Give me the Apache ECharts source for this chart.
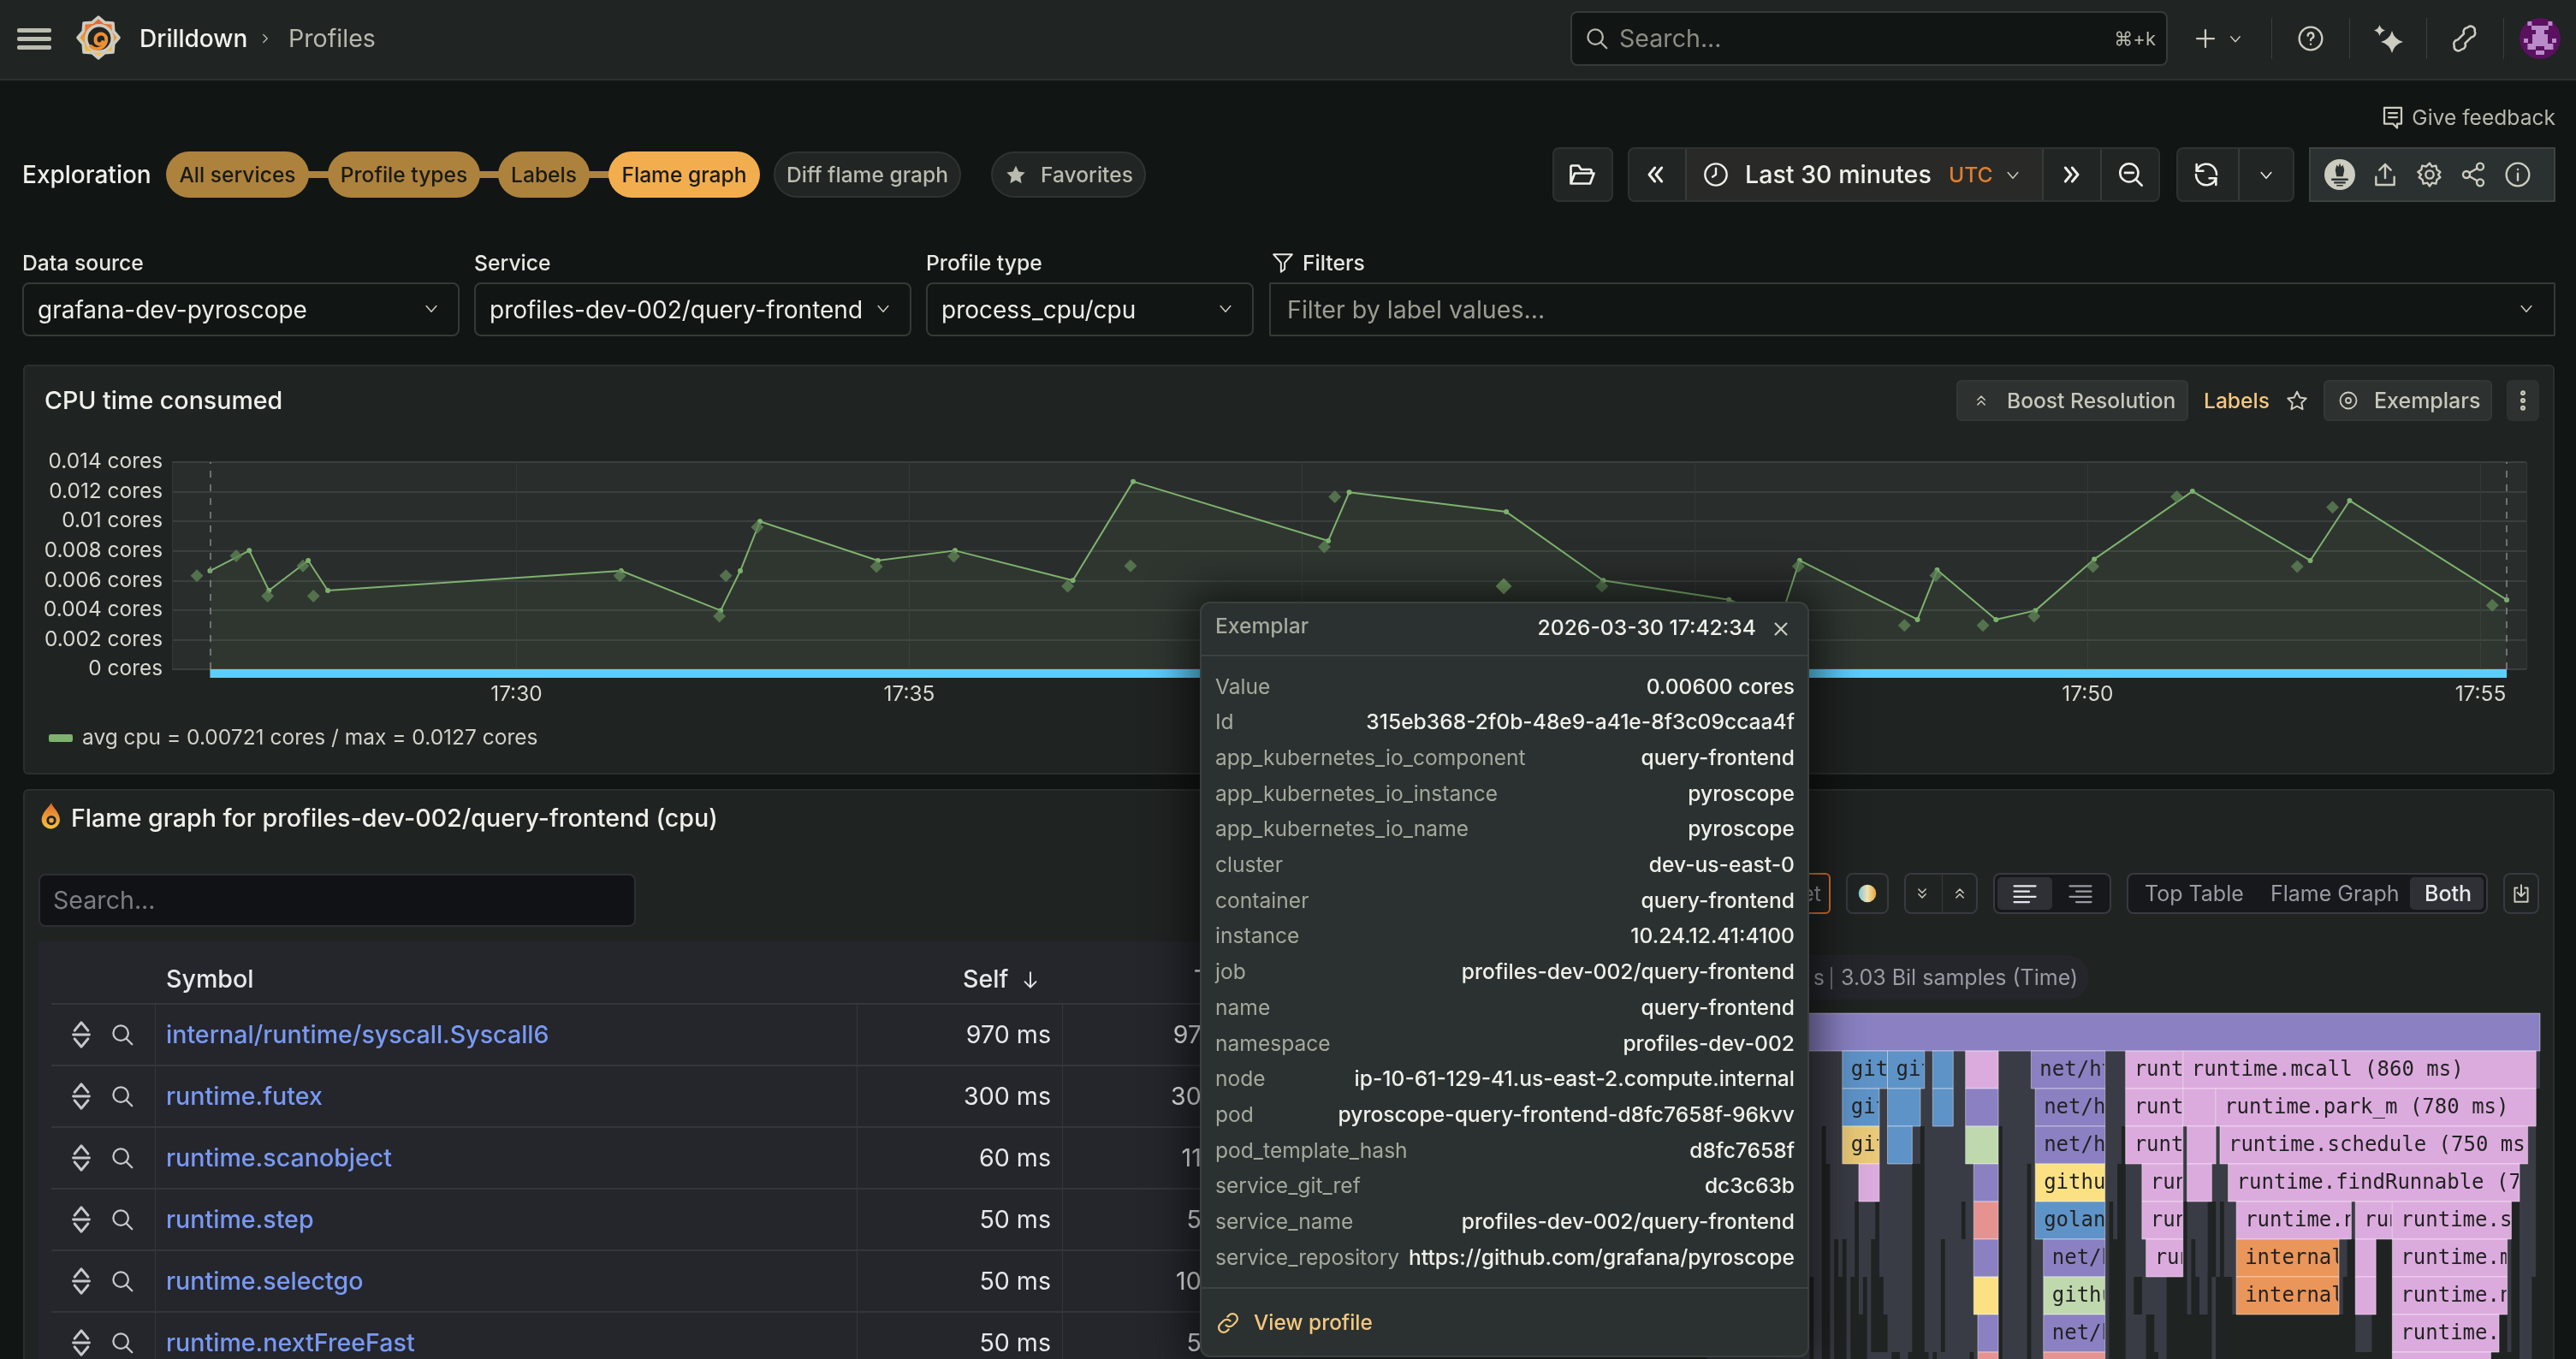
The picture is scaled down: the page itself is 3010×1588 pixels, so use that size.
<![CDATA[<!DOCTYPE html>
<html><head><meta charset="utf-8"><title>Profiles</title>
<script src="https://cdn.jsdelivr.net/npm/echarts@6/dist/echarts.min.js"></script>
<style>
html,body{margin:0;padding:0;background:#111514;width:3010px;height:1588px;overflow:hidden;font-family:Inter,"Noto Sans",sans-serif}
#ui,#tip{position:absolute;left:0;top:0;width:3010px;height:1588px}
#under{position:absolute;left:0;top:0;width:3010px;height:1588px;z-index:1}
#chart{position:absolute;left:0;top:0;width:3010px;height:1588px;z-index:2}
#ui{z-index:3}#tip{z-index:5;pointer-events:none}
.t{position:absolute;white-space:nowrap;line-height:1;transform:translateY(-50%)}
.b{position:absolute;box-sizing:border-box}
svg{position:absolute;overflow:visible}
</style></head><body>
<div id="under"></div><div id="chart"></div><div id="ui"></div><div id="tip"></div>
<script>
/* ---------- time series data ---------- */
const cpuTimes=['17:26:06','17:26:36','17:26:51','17:27:21','17:27:36','17:31:20','17:32:36','17:32:51','17:33:06','17:34:36','17:35:35','17:37:05','17:37:51','17:40:20','17:40:36','17:42:36','17:43:50','17:45:26','17:46:05','17:46:20','17:47:50','17:48:05','17:48:50','17:49:20','17:50:05','17:51:20','17:52:50','17:53:20','17:55:20'];
const cpuValues=[0.00665,0.00802,0.00532,0.00735,0.00532,0.00665,0.00397,0.00665,0.00999,0.00735,0.00802,0.0060,0.01269,0.00868,0.01196,0.01064,0.0060,0.0047,0.0033,0.00735,0.00336,0.00671,0.00336,0.00397,0.00744,0.01203,0.00735,0.0114,0.00469];
const exemplarTimes=['17:25:56','17:26:26','17:26:50','17:27:17','17:27:25','17:31:19','17:32:35','17:32:40','17:33:04','17:34:35','17:35:34','17:37:01','17:37:49','17:40:17','17:40:25','17:43:49','17:46:19','17:47:40','17:48:04','17:48:40','17:49:19','17:50:04','17:51:08','17:52:40','17:53:07','17:55:09'];
const exemplarValues=[0.00632,0.00767,0.00494,0.00698,0.00494,0.00632,0.00359,0.00632,0.0096,0.00694,0.00764,0.00561,0.00698,0.00827,0.01165,0.00561,0.00696,0.00297,0.00634,0.00297,0.00359,0.00694,0.01165,0.00694,0.01095,0.00432];
const selectedExemplar=['17:42:34',0.00561];
const axisRange=['17:25:37','17:55:35'];
const profileRange=['17:26:06','17:55:20'];
const legendText='avg cpu = 0.00721 cores / max = 0.0127 cores';
const yTicksMax=0.014, yTickStep=0.002;

/* ---------- flame graph data: [level, startMs, endMs, symbol] ---------- */
const totalMs=3030;
const flameLevelsShown=9.1818;
const namedFrames=[
[0,0,3030,'total'],
[1,1330,1440,'github.com/grafana/dskit/middleware'],[1,1440,1530,'github.com/grafana/dskit/server'],[1,1550,1600,'github.com/grafana/dskit/log'],[1,1630,1710,'runtime.goexit'],[1,1790,1970,'net/http.(*conn).serve'],[1,2020,2160,'runtime.systemstack'],[1,2160,3020,'runtime.mcall'],
[2,1330,1420,'github.com/grafana/dskit/signals'],[2,1440,1520,'github.com/grafana/dskit/kv'],[2,1550,1600,'github.com/grafana/dskit/ring'],[2,1630,1710,'net/http.(*persistConn).readLoop'],[2,1800,1970,'net/http.serverHandler.ServeHTTP'],[2,2020,2160,'runtime.gcBgMarkWorker'],[2,2160,2240,'runtime.goexit0'],[2,2240,3020,'runtime.park_m'],
[3,1330,1420,'github.com/prometheus/common'],[3,1440,1500,'github.com/grafana/dskit/grpc'],[3,1630,1710,'github.com/felixge/httpsnoop'],[3,1800,1970,'net/http.HandlerFunc.ServeHTTP'],[3,2020,2160,'runtime.gcDrain'],[3,2170,2240,'runtime.gdestroy'],[3,2250,3000,'runtime.schedule'],
[4,1370,1420,'runtime.selectgo'],[4,1650,1710,'net/http.HandlerFunc.ServeHTTP'],[4,1800,1970,'github.com/gorilla/mux.(*Router).ServeHTTP'],[4,2060,2160,'runtime.scanobject'],[4,2170,2230,'runtime.mProf_Free'],[4,2270,2980,'runtime.findRunnable'],
[5,1650,1710,'github.com/opentracing/contrib'],[5,1800,1970,'golang.org/x/net/http2/h2c'],[5,2060,2160,'runtime.greyobject'],[5,2290,2570,'runtime.netpoll'],[5,2580,2670,'runtime.stealWork'],[5,2670,2960,'runtime.stopm'],
[6,1650,1710,'net/http.HandlerFunc.ServeHTTP'],[6,1820,1970,'net/http.HandlerFunc.ServeHTTP'],[6,2070,2160,'runtime.findObject'],[6,2290,2540,'internal/runtime/syscall.EpollWait'],[6,2580,2630,'runtime.runqsteal'],[6,2670,2950,'runtime.mPark'],
[7,1650,1710,'github.com/gorilla/mux.(*Router)'],[7,1820,1970,'github.com/felixge/httpsnoop'],[7,2290,2540,'internal/runtime/syscall.Syscall6'],[7,2580,2630,'runtime.runqgrab'],[7,2670,2950,'runtime.notesleep'],
[8,1660,1710,'net/http.HandlerFunc.ServeHTTP'],[8,1820,1970,'net/http.HandlerFunc.ServeHTTP'],[8,2670,2930,'runtime.futexsleep'],
[9,1660,1710,'github.com/opentracing/gin'],[9,1820,1970,'github.com/opentracing/middleware'],[9,2670,2910,'runtime.futex']];
const smallFrames=[
[1,1000,1330],[1,1530,1550],[1,1600,1630],[1,1710,1790],[1,1970,2020],[1,3020,3030],
[2,1000,1330],[2,1420,1440],[2,1520,1550],[2,1600,1630],[2,1710,1800],[2,1970,2020],
[3,1000,1280],[3,1290,1330],[3,1420,1440],[3,1500,1520],[3,1530,1630],[3,1720,1800],[3,1970,2010],[3,2160,2170],[3,2240,2250],[3,3000,3020],
[4,1000,1280],[4,1300,1370],[4,1420,1500],[4,1530,1650],[4,1720,1780],[4,1790,1800],[4,1970,2000],[4,2020,2060],[4,2160,2170],[4,2230,2270],[4,2980,3020],
[5,1000,1280],[5,1300,1360],[5,1370,1410],[5,1420,1500],[5,1530,1620],[5,1630,1650],[5,1720,1780],[5,1790,1800],[5,1970,1980],[5,1990,2000],[5,2020,2060],[5,2170,2220],[5,2240,2250],[5,2260,2290],[5,2570,2580],[5,2980,3020],
[6,1000,1280],[6,1300,1310],[6,1320,1330],[6,1340,1360],[6,1370,1400],[6,1420,1500],[6,1530,1570],[6,1580,1650],[6,1720,1780],[6,1790,1820],[6,1970,1980],[6,2020,2070],[6,2170,2180],[6,2190,2220],[6,2240,2250],[6,2260,2290],[6,2540,2560],[6,2950,2960],[6,2980,3020],
[7,1000,1250],[7,1260,1280],[7,1300,1310],[7,1340,1350],[7,1370,1380],[7,1390,1400],[7,1430,1500],[7,1530,1570],[7,1580,1650],[7,1720,1780],[7,1790,1820],[7,1970,1980],[7,2020,2040],[7,2060,2120],[7,2170,2180],[7,2200,2220],[7,2230,2240],[7,2280,2290],[7,2540,2550],[7,2950,2960],[7,2980,3010],
[8,1000,1250],[8,1260,1280],[8,1300,1310],[8,1340,1350],[8,1390,1400],[8,1440,1500],[8,1530,1570],[8,1580,1660],[8,1720,1780],[8,1790,1820],[8,1970,1980],[8,2020,2070],[8,2090,2120],[8,2230,2240],[8,2580,2620],[8,2950,2960],[8,2980,3010],
[9,1000,1250],[9,1260,1280],[9,1300,1310],[9,1340,1350],[9,1390,1450],[9,1470,1490],[9,1540,1550],[9,1560,1640],[9,1650,1660],[9,1720,1780],[9,1790,1820],[9,1970,1980],[9,2020,2070],[9,2100,2120],[9,2230,2240],[9,2980,3010]];
const packageColors=[['total','#8a80c2'],['net/','#8a80c2'],['runtime.','#dcabde'],['internal/','#ea9559'],['github.com/grafana','#5e93c8'],['golang.org','#5e93c8'],['github.com/prometheus','#e9c877'],['github.com/felixge','#c0d8ae'],['github.com/gorilla','#fbe184'],['github.com/opentracing','#e59390']];

/* ---------- table + tooltip text ---------- */
const tableSymbols=['internal/runtime/syscall.Syscall6','runtime.futex','runtime.scanobject','runtime.step','runtime.selectgo','runtime.nextFreeFast'];
const tableSelf=['970 ms','300 ms','60 ms','50 ms','50 ms','50 ms'];
const tableTotal=['970 ms','300 ms','110 ms','50 ms','100 ms','50 ms'];
const exemplarLabels=['Value','Id','app_kubernetes_io_component','app_kubernetes_io_instance','app_kubernetes_io_name','cluster','container','instance','job','name','namespace','node','pod','pod_template_hash','service_git_ref','service_name','service_repository'];
const exemplarFields=['0.00600 cores','315eb368-2f0b-48e9-a41e-8f3c09ccaa4f','query-frontend','pyroscope','pyroscope','dev-us-east-0','query-frontend','10.24.12.41:4100','profiles-dev-002/query-frontend','query-frontend','profiles-dev-002','ip-10-61-129-41.us-east-2.compute.internal','pyroscope-query-frontend-d8fc7658f-96kvv','d8fc7658f','dc3c63b','profiles-dev-002/query-frontend','https://github.com/grafana/pyroscope'];

/* ---------- chart ---------- */
const t=s=>new Date('2026-03-30T'+s).getTime();
const chart=echarts.init(document.getElementById('chart'),null,{renderer:'canvas',width:3010,height:1588});
const FONT='Inter';
const xCommon={type:'time',min:t(axisRange[0]),max:t(axisRange[1])};
const symbolColor=s=>{for(const [p,c] of packageColors){if(s.indexOf(p)===0)return c}return '#888'};
const flameData=smallFrames.map(f=>[f[1],f[2],f[0],'']).concat(namedFrames.map(f=>[f[1],f[2],f[0],f[3]]));
function renderFrame(params,api){
  const a=api.coord([api.value(0),api.value(2)]), b=api.coord([api.value(1),api.value(2)+1]);
  const x=a[0],y=a[1],w=b[0]-a[0],h=b[1]-a[1];
  const name=flameData[params.dataIndex][3];
  const dur=api.value(1)-api.value(0);
  if(!name) return {type:'rect',shape:{x,y,width:w,height:h},style:{fill:'#3a3c45'}};
  const kids=[{type:'rect',shape:{x,y,width:w,height:h},style:{fill:symbolColor(name),stroke:'rgba(255,255,255,0.45)',lineWidth:1}}];
  if(dur>=90&&name!=='total'){
    kids.push({type:'text',style:{x:x+10,y:y+h/2+1,text:name+' ('+dur+' ms)',fill:'#222222',font:'24px "DejaVu Sans Mono"',verticalAlign:'middle',textAlign:'left'},
      clipPath:{type:'rect',shape:{x:x+1,y:y,width:w-2,height:h}}});
  }
  return {type:'group',children:kids};
}
chart.setOption({
  animation:false,backgroundColor:'transparent',
  textStyle:{fontFamily:FONT},
  legend:{left:52,top:845,icon:'roundRect',itemWidth:28,itemHeight:9,itemGap:8,data:[legendText],selectedMode:false,
    textStyle:{color:'#d0d2c8',fontSize:24.5,fontFamily:FONT,padding:[0,0,0,6]}},
  grid:[
    {left:201,top:540,width:2751,height:242,show:true,backgroundColor:'#292d2c',borderWidth:0},
    {left:201,top:782,width:2751,height:10,show:false},
    {left:1515,top:1184,width:1453,height:404,show:false}
  ],
  xAxis:[
    Object.assign({},xCommon,{gridIndex:0,splitNumber:5,
      axisLine:{show:false},axisTick:{show:false},
      axisLabel:{color:'#d8dad2',fontSize:24.4,margin:18,showMinLabel:false,showMaxLabel:false,fontFamily:FONT,
        hideOverlap:false,formatter:v=>{const d=new Date(v);return d.getMinutes()%5===0&&d.getSeconds()===0?echarts.time.format(v,'{HH}:{mm}',false):''}},
      splitLine:{show:true,lineStyle:{color:'#343837',width:1}}}),
    Object.assign({},xCommon,{gridIndex:1,show:false}),
    {type:'value',gridIndex:2,min:0,max:totalMs,show:false}
  ],
  yAxis:[
    {type:'value',gridIndex:0,min:0,max:yTicksMax,interval:yTickStep,
      axisLine:{show:false},axisTick:{show:false},
      axisLabel:{color:'#d8dad2',fontSize:24.4,margin:11,fontFamily:FONT,formatter:v=>v+' cores'},
      splitLine:{lineStyle:{color:'#3b3f3e',width:2}}},
    {type:'value',gridIndex:1,min:0,max:1,show:false},
    {type:'value',gridIndex:2,min:0,max:flameLevelsShown,inverse:true,show:false}
  ],
  series:[
    {name:legendText,type:'line',xAxisIndex:0,yAxisIndex:0,data:cpuTimes.map((s,i)=>[t(s),cpuValues[i]]),
      color:'#7eb26d',symbol:'circle',symbolSize:6,showSymbol:true,showAllSymbol:true,lineStyle:{width:2,color:'#7eb26d'},itemStyle:{color:'#7eb26d'},
      areaStyle:{color:'rgba(126,178,109,0.1)'},z:3,
      markLine:{silent:true,symbol:'none',animation:false,label:{show:false},lineStyle:{type:[8,8],color:'#85888a',width:1.5},
        data:[{xAxis:t(profileRange[0])},{xAxis:t(profileRange[1])}]}},
    {name:'exemplars',type:'scatter',xAxisIndex:0,yAxisIndex:0,clip:false,symbol:'diamond',symbolSize:15,
      data:exemplarTimes.map((s,i)=>[t(s),exemplarValues[i]]),itemStyle:{color:'#5c8255'},z:4},
    {name:'selected exemplar',type:'scatter',xAxisIndex:0,yAxisIndex:0,clip:false,symbol:'diamond',symbolSize:19,
      data:[[t(selectedExemplar[0]),selectedExemplar[1]]],itemStyle:{color:'#7eb26d'},z:5},
    {name:'profile range',type:'line',xAxisIndex:1,yAxisIndex:1,symbol:'none',data:[[t(profileRange[0]),0.5],[t(profileRange[1]),0.5]],
      lineStyle:{width:10,color:'#5fcdfb',cap:'butt'}},
    {name:'flame',type:'custom',xAxisIndex:2,yAxisIndex:2,clip:false,data:flameData,encode:{x:[0,1],y:2},renderItem:renderFrame}
  ]
});

/* ---------- page chrome ---------- */
const ui=document.getElementById('ui'),under=document.getElementById('under'),tip=document.getElementById('tip');
function txt(x,cy,s,o={},host=ui){const e=document.createElement('div');e.className='t';e.textContent=s;
  e.style.cssText+=`top:${cy}px;font-size:${o.s||28.6}px;color:${o.c||'#d8dad2'};font-weight:${o.w||400};`;
  if(o.a==='r')e.style.right=(3010-x)+'px';else e.style.left=x+'px';
  if(o.a==='c')e.style.transform='translate(-50%,-50%)';
  host.appendChild(e);return e}
function box(x,y,x2,y2,o={},host=ui){const e=document.createElement('div');e.className='b';
  e.style.cssText+=`left:${x}px;top:${y}px;width:${x2-x}px;height:${y2-y}px;background:${o.bg||'transparent'};`+(o.bd?`border:${o.bw||2}px solid ${o.bd};`:'')+`border-radius:${o.r||0}px;`+(o.extra||'');
  host.appendChild(e);return e}
function ic(x,y,inner,o={},host=ui){const n='http://www.w3.org/2000/svg';const e=document.createElementNS(n,'svg');
  const sz=o.size||32;e.setAttribute('width',sz);e.setAttribute('height',sz);e.setAttribute('viewBox','0 0 24 24');
  e.style.left=(x-sz/2)+'px';e.style.top=(y-sz/2)+'px';
  e.innerHTML=`<g fill="${o.fill||'none'}" stroke="${o.fill?'none':(o.c||'#ccccc0')}" stroke-width="${o.sw||1.8}" stroke-linecap="round" stroke-linejoin="round">${inner}</g>`;
  host.appendChild(e);return e}
const I={chev:'<path d="M5 9l7 8 7-8"/>',search:'<circle cx="10.5" cy="10.5" r="7"/><path d="M16 16l5 5"/>',
 dl:'<path d="M11 6l-5 6 5 6M17 6l-5 6 5 6"/>',dr:'<path d="M7 6l5 6-5 6M13 6l5 6-5 6"/>',
 clock:'<circle cx="12" cy="12" r="9.5"/><path d="M12 6.5V12l-3 2"/>',zoom:'<circle cx="10.5" cy="10.5" r="7.5"/><path d="M7 10.5h7M16 16l5 5"/>',
 refresh:'<path d="M4 9a8.500 8.500 0 0 1 15-2 8.500 8.500 0 0 1 1.500 5M20 15a8.500 8.500 0 0 1-15 2 8.500 8.500 0 0 1-1.500-5"/><path d="M4 3.500V9h5.500M20 20.500V15h-5.500"/>',folder:'<path d="M3 19V6a1 1 0 0 1 1-1h5l2 3h7a1 1 0 0 1 1 1v2M3 19l3-8h15l-3 8z"/>',
 help:'<circle cx="12" cy="12" r="10"/><path d="M9.5 9.5a2.5 2.5 0 1 1 3.5 2.3c-.7.3-1 .8-1 1.7M12 17h.01"/>',
 plus:'<path d="M12 4v16M4 12h16"/>',share:'<circle cx="18" cy="5" r="3"/><circle cx="6" cy="12" r="3"/><circle cx="18" cy="19" r="3"/><path d="M8.6 10.5l6.8-4M8.6 13.5l6.8 4"/>',
 info:'<circle cx="12" cy="12" r="10"/><path d="M12 11v6M12 7.5h.01"/>',up:'<path d="M12 15V3M7 8l5-5 5 5M4 14v7h16v-7"/>',
 gear:'<circle cx="12" cy="12" r="3.5"/><path d="M12 2l2 3 3.5-.8 .8 3.5 3 2-1.8 2.3 1.8 2.5-3 2-.8 3.5-3.5-.8-2 3-2-3-3.5.8-.8-3.5-3-2 1.8-2.5L1.7 9.7l3-2 .8-3.5L9 5z"/>',
 close:'<path d="M5 5l14 14M19 5L5 19"/>',star:'<path d="M12 2.5l3 6.3 6.9.9-5 4.8 1.2 6.9-6.1-3.3-6.1 3.3 1.2-6.9-5-4.8 6.9-.9z"/>',
 eye:'<circle cx="12" cy="12" r="9.5"/><circle cx="12" cy="12" r="3"/>',link:'<path d="M10 14a4.5 4.5 0 0 0 6.4 0l3-3A4.5 4.5 0 0 0 13 4.6l-1.5 1.5M14 10a4.5 4.5 0 0 0-6.4 0l-3 3a4.5 4.5 0 0 0 6.4 6.4l1.5-1.5"/>',
 sort:'<path d="M7 9l5-6 5 6M7 15l5 6 5-6M6 12h12"/>',updown:'<path d="M7 11l5-5 5 5M7 18l5-5 5 5"/>',downup:'<path d="M7 6l5 5 5-5M7 13l5 5 5-5"/>',
 arrowdown:'<path d="M12 4v16M6 14l6 6 6-6"/>',filter:'<path d="M2 3h20l-8 9v7l-4 3V12z"/>',feedback:'<path d="M4 3h16v15h-4v4l-4-4H4zM8 8h8M8 12h8"/>',
 dots:'<circle cx="12" cy="5" r="1.5"/><circle cx="12" cy="12" r="1.5"/><circle cx="12" cy="19" r="1.5"/>',
 bone:'<path d="M15 3a3.500 3.500 0 0 1 6 3 3.500 3.500 0 0 1-3 5l-5 5a3.500 3.500 0 0 1-3 5 3.500 3.500 0 0 1-6-3 3.500 3.500 0 0 1 3-5l5-5a3.500 3.500 0 0 1 3-5z"/>',download:'<path d="M12 3v12M8 11l4 4 4-4M8 6H5v15h14V6h-3"/>',
 spark:'<path d="M12 0Q14.500 9.500 24 12Q14.500 14.500 12 24Q9.500 14.500 0 12Q9.500 9.500 12 0z"/>'};

/* header */
box(0,0,3010,94,{bg:'#202423',extra:'border-bottom:2px solid #2c302f;'},under);
[35,45,55].forEach(y=>box(20,y-2.5,60,y+2.5,{bg:'#b9bcae',r:2}));
ic(115,44,`<defs><linearGradient id="lg" x1="0" y1="0" x2="0" y2="1"><stop offset="0" stop-color="#e4582f"/><stop offset=".55" stop-color="#f09a33"/><stop offset="1" stop-color="#f8cb42"/></linearGradient></defs>
<path fill="url(#lg)" d="M12 0L15.670 3.130 20.500 3.500 20.870 8.330 24 12 20.870 15.670 20.500 20.500 15.670 20.870 12 24 8.330 20.870 3.500 20.500 3.130 15.670 0 12 3.130 8.330 3.500 3.500 8.330 3.130z"/><circle cx="12.500" cy="12.500" r="7.600" fill="#202423"/><path d="M14.500 14.500a2.200 2.200 0 0 1-4.200-1 3.200 3.200 0 0 1 6.200-1.500 5.400 5.400 0 0 1-9 5" fill="none" stroke="#ee8f33" stroke-width="2" stroke-linecap="round"/>`,{size:48});
txt(163,45,'Drilldown',{c:'#f2f2ee',s:28,w:500});
ic(310,45,'<path d="M9 6l6 6-6 6"/>',{size:18,c:'#b5b8ab'});
txt(337,45,'Profiles',{c:'#b5b8ab'});
box(1835,13,2533,77,{bg:'#111514',bd:'#363b37',r:8});
ic(1866,45,I.search,{c:'#b5b8ab',size:30});
txt(1892,45,'Search...',{c:'#8a8d82'});
txt(2519,45,'⌘+k',{a:'r',c:'#b5b8ab',s:22});
ic(2577,45,I.plus,{size:30});ic(2612,45,I.chev,{size:18});
[2654,2745,2835,2925].forEach(x=>box(x,21,x+1,69,{bg:'#3b3f3d'}));
ic(2700,45,I.help,{size:32});ic(2795,49,I.spark,{size:26,fill:'#ccccc0'});ic(2780,35,I.spark,{size:13,fill:'#ccccc0'});ic(2879,45,I.bone,{size:34});
/* avatar */
ic(2968,45,'<circle cx="12" cy="12" r="12" fill="#5b1060"/><g fill="#b98bc8"><rect x="4.700" y="2" width="2.500" height="2.500"/><rect x="16.700" y="2" width="2.500" height="2.500"/><rect x="7" y="4.500" width="10" height="2.500"/><rect x="9.500" y="7" width="5" height="2.500"/><rect x="7.500" y="9.500" width="9" height="5.500"/><rect x="2.500" y="12" width="2.500" height="2.500"/><rect x="19" y="12" width="2.500" height="2.500"/><rect x="4.700" y="15" width="15" height="3.500"/><rect x="9.500" y="19" width="5" height="2.500"/></g><rect x="9.500" y="16.500" width="5" height="2" fill="#5b1060"/>',{size:48,fill:'#5b1060'});

txt(2986,137,'Give feedback',{a:'r',s:24.6,c:'#b5b8ab'});
ic(2796,137,I.feedback,{size:30});

/* breadcrumb */
txt(26,204,'Exploration',{s:28,c:'#f0f0ea',w:500});
box(355,200,720,208,{bg:'#ad823d'});
[[194,361,'All services','#ad823d','#1b1a14'],[383,561,'Profile types','#ad823d','#1b1a14'],[582,689,'Labels','#ad823d','#1b1a14'],[711,888,'Flame graph','#f2ae4e','#1b1a14']].forEach(p=>{box(p[0],177,p[1],231,{bg:p[3],r:27});txt((p[0]+p[1])/2,204,p[2],{a:'c',s:24.6,c:p[4],w:500})});
box(904,177,1123,231,{bg:'#212524',bd:'#2f3431',r:27});txt(1013.500,204,'Diff flame graph',{a:'c',s:24.6,c:'#b8bbae',w:500});
box(1158,177,1339,231,{bg:'#212524',bd:'#2f3431',r:27});ic(1187,204,I.star,{size:26,fill:'#b8bbae'});txt(1216,204,'Favorites',{s:24.6,c:'#b8bbae',w:500});

/* toolbar */
const tbd='#2e3230',tbg='#212524';
box(1814,172,1885,236,{bg:tbg,bd:tbd,r:8});ic(1849,204,I.folder,{size:36,c:'#f0f0ea'});
box(1902,172,2524,236,{bg:tbg,bd:tbd,r:8});box(1969,174,2386,234,{bg:'#292a27'});
[1969,2386,2454].forEach(x=>box(x,174,x+2,234,{bg:'#383b38'}));
ic(1935,204,I.dl,{size:32,c:'#f0f0ea',sw:2.2});ic(2005,204,I.clock,{size:32,c:'#f0f0ea'});
txt(2039,204,'Last 30 minutes',{c:'#f0f0ea',w:500});txt(2277,204,'UTC',{s:24.6,c:'#e07e2f',w:500});ic(2352,204,I.chev,{size:20});
ic(2420,204,I.dr,{size:32,c:'#f0f0ea',sw:2.2});ic(2490,204,I.zoom,{size:34,c:'#f0f0ea'});
box(2543,172,2681,236,{bg:tbg,bd:tbd,r:8});box(2615,174,2617,234,{bg:'#383b38'});ic(2578,204,I.refresh,{size:34,c:'#f0f0ea'});ic(2648,204,I.chev,{size:20,c:'#f0f0ea'});
box(2698,172,2986,236,{bg:'#2a3130',bd:'#3c4240'});
ic(2734,204,'<circle cx="12" cy="12" r="12" fill="#ccccc0"/><path d="M12 3l1 3 1.500-1.500 1 4-1 5h-5l-1-5 1-4 1.500 1.500z" fill="#2a3130"/><path d="M5.500 15h13v1.600h-13zM7.500 17.500h9v1.500h-9zM9.500 20h5v1h-5z" fill="#2a3130"/>',{size:36,fill:'#ccccc0'});
ic(2787,204,I.up,{size:32});ic(2839,204,I.gear,{size:32});ic(2890,204,I.share,{size:32});ic(2942,204,I.info,{size:32});

/* variables */
const lab={s:24.7,c:'#e8e8e2',w:500};
txt(26,307,'Data source',lab);txt(554,307,'Service',lab);txt(1082,307,'Profile type',lab);
ic(1499,307,I.filter,{size:26,c:'#e8e8e2'});txt(1522,307,'Filters',lab);
[[26,537,'grafana-dev-pyroscope'],[554,1065,'profiles-dev-002/query-frontend'],[1082,1465,'process_cpu/cpu']].forEach(v=>{box(v[0],330,v[1],393,{bd:'#353a35',r:8});txt(v[0]+18,362,v[2],{s:28,c:'#eeeeea'});ic(v[1]-33,360,I.chev,{size:20})});
box(1483,330,2986,393,{bd:'#353a35',r:2});txt(1504,362,'Filter by label values...',{c:'#9a9d90'});ic(2952,360,I.chev,{size:20});

/* panel 1 */
box(27,426,2985,905,{bg:'#1f2322',bd:'#2b2f2e',r:6},under);
txt(52,468,'CPU time consumed',{c:'#f0f0ea',w:500});
box(2286,444,2557,492,{bg:'#2d312f',bd:'#343835',r:6});ic(2315,468,I.updown,{size:20});txt(2345,468,'Boost Resolution',{s:24.6,c:'#c5c8bb',w:500});
txt(2575,468,'Labels',{s:24.6,c:'#f5c77f',w:500});ic(2684,468,I.star,{size:26});
box(2715,444,2912,492,{bg:'#2d312f',bd:'#343835',r:6});ic(2744,468,I.eye,{size:24});txt(2774,468,'Exemplars',{s:25,c:'#c5c8bb',w:500});
box(2929,444,2967,492,{bg:'#2d312f',r:6});ic(2948,468,I.dots,{size:30});

/* panel 2 */
box(27,922,2985,1600,{bg:'#1f2322',bd:'#2b2f2e',r:6},under);
ic(60,955,`<defs><linearGradient id="fl" x1="0" y1="0" x2="0" y2="1"><stop offset="0" stop-color="#e0692c"/><stop offset="1" stop-color="#f6c43a"/></linearGradient></defs><path fill="url(#fl)" d="M12 0c1 4 7 8 7 14a7.500 7.500 0 0 1-15 0c0-6 6-10 8-14z"/><circle cx="12" cy="14.500" r="4" fill="#1f2322"/><circle cx="12" cy="14.500" r="2" fill="#f0a63a"/>`,{size:34,fill:'#f0a63a'});
txt(83,956,'Flame graph for profiles-dev-002/query-frontend (cpu)',{c:'#f0f0ea',w:500});
box(45,1021,743,1083,{bg:'#111216',bd:'#2c2e36',r:8});txt(62,1052,'Search...',{c:'#7c7d85'});

/* table */
box(45,1100,1520,1600,{bg:'#24262c'},under);
txt(194,1144,'Symbol',{c:'#e8e8ea',w:500});txt(1125,1144,'Self',{c:'#e8e8ea',w:500});ic(1204,1145,I.arrowdown,{size:26,c:'#e8e8ea'});
txt(1395,1144,'Total',{c:'#e8e8ea',w:500});
box(60,1172,1500,1174,{bg:'#34363d'});
tableSymbols.forEach((s,i)=>{const cy=1209+72*i;
  box(60,cy+35,1500,cy+37,{bg:'#34363d'});
  ic(95,cy,I.sort,{size:38,c:'#c6c8ce'});ic(143,cy,I.search,{size:30,c:'#c6c8ce'});
  txt(194,cy,s,{c:'#7a99f4',w:500});txt(1228,cy,tableSelf[i],{a:'r',c:'#e8e8ea'});txt(1470,cy,tableTotal[i],{a:'r',c:'#e8e8ea'});
});
[181,1001,1241].forEach(x=>box(x,1174,x+1,1588,{bg:'#34363d'}));

/* flame toolbar */
const fb='#383a40';
box(1950,1020,2139,1068,{bd:'#e0702c',r:6});txt(2128,1044,'Reset',{a:'r',s:25,c:'#9a9ba3'});
box(2157,1020,2207,1068,{bd:fb,r:8});
ic(2182,1044,'<defs><linearGradient id="pal" x1="0" x2="1"><stop offset="0" stop-color="#7fc9e0"/><stop offset=".5" stop-color="#f2e3b0"/><stop offset="1" stop-color="#e8a23c"/></linearGradient></defs><circle cx="12" cy="12" r="9.500" fill="url(#pal)"/>',{size:26,fill:'#fff'});
box(2225,1020,2311,1068,{bd:fb,r:8});box(2269,1021,2270,1067,{bg:fb});ic(2246,1044,I.downup,{size:20});ic(2290,1044,I.updown,{size:20});
box(2329,1020,2467,1068,{bd:fb,r:8,bg:'#17181c'});box(2334,1025,2398,1063,{bg:'#2e3036',r:5});
ic(2366,1044,'<path d="M2 5h20M2 10h14M2 15h20M2 20h14"/>',{size:30,c:'#e8e8ea'});ic(2431,1044,'<path d="M2 5h20M8 10h14M2 15h20M8 20h14"/>',{size:30,c:'#9a9ba3'});
box(2485,1020,2907,1068,{bd:fb,r:8,bg:'#17181c'});box(2816,1025,2902,1063,{bg:'#2e3036',r:5});
txt(2506,1044,'Top Table',{s:25,c:'#9a9ba3'});txt(2653,1044,'Flame Graph',{s:25,c:'#9a9ba3'});txt(2833,1044,'Both',{s:25,c:'#e8e8ea',w:500});
box(2925,1020,2967,1068,{bd:fb,r:8});ic(2946,1044,I.download,{size:26});
box(1800,1116,2441,1168,{bg:'#24262c',r:26});
txt(2132,1142,'3.03 s',{a:'r',s:25,c:'#9a9ba3'});box(2139,1130,2141,1156,{bg:'#6a6b72'});
txt(2151,1142,'3.03 Bil samples (Time)',{s:25,c:'#9a9ba3'});

/* exemplar tooltip */
box(1402,703,2114,1586,{bg:'#2a3130',bd:'#3a403e',r:12,extra:'box-shadow:0 0 50px 14px rgba(0,0,0,.55);'},tip);
txt(1420,731,'Exemplar',{s:24.6,c:'#a5a89c',w:500},tip);
txt(2052,733,'2026-03-30 17:42:34',{a:'r',s:24.7,c:'#f0f0ea',w:500},tip);
ic(2081,735,I.close,{size:22,sw:2.4},tip);
box(1403,765,2113,767,{bg:'#3c4240'},tip);
exemplarLabels.forEach((l,i)=>{const cy=801.5+41.7*i;txt(1420,cy,l,{s:24.6,c:'#a5a89c'},tip);txt(2097,cy,exemplarFields[i],{a:'r',s:24.6,c:'#f0f0ea',w:500},tip)});
box(1403,1504,2113,1506,{bg:'#3c4240'},tip);
ic(1435,1546,I.link,{size:30,c:'#f5c77f'},tip);
txt(1465,1545,'View profile',{s:24.4,c:'#f5c77f',w:500},tip);
</script></body></html>]]>
